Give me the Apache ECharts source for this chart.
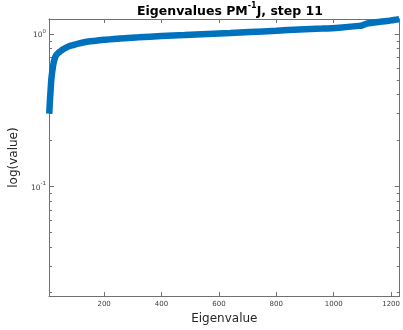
<!DOCTYPE html>
<html>
<head>
<meta charset="utf-8">
<script src="https://cdn.jsdelivr.net/npm/echarts@6/dist/echarts.min.js"></script>
<style>
  html, body { margin: 0; padding: 0; background: #fff; }
  #chart { width: 403px; height: 330px; }
</style>
</head>
<body>
<div id="chart"></div>
<script>
// eigenvalue index and value
const eigIndex = [9, 11, 13, 16, 19, 23, 27, 32, 40, 48, 56, 66, 78, 92, 110, 135, 165, 200, 255, 320, 400, 480, 560, 640, 707, 800, 880, 960, 1018, 1088, 1100, 1115, 1135, 1157, 1185, 1209, 1228];
const eigValue = [0.30, 0.36, 0.41, 0.50, 0.56, 0.63, 0.68, 0.72, 0.75, 0.77, 0.79, 0.81, 0.83, 0.845, 0.865, 0.885, 0.90, 0.915, 0.935, 0.95, 0.97, 0.985, 1.0, 1.015, 1.03, 1.05, 1.07, 1.085, 1.10, 1.13, 1.14, 1.17, 1.185, 1.20, 1.215, 1.235, 1.25];

const xTicks = [200, 400, 600, 800, 1000, 1200];
const yTickValues = [1, 0.1];
const yTickExponents = ['0', '-1'];
const yMinorValues = [0.02, 0.03, 0.04, 0.05, 0.06, 0.07, 0.08, 0.09, 0.2, 0.3, 0.4, 0.5, 0.6, 0.7, 0.8, 0.9];

const xMin = 8, xMax = 1230;
const yMin = 0.019, yMax = 1.254;

const lg = v => Math.log10(v);
const boxColor = '#707070';
const font = 'DejaVu Sans';

const chart = echarts.init(document.getElementById('chart'));

const xBase = {
  type: 'value', min: xMin, max: xMax,
  axisLine: { onZero: false, lineStyle: { color: boxColor, width: 1 } },
  axisTick: { inside: true, length: 4, customValues: xTicks, lineStyle: { color: boxColor } },
  splitLine: { show: false },
};
const yBase = {
  type: 'value', min: lg(yMin), max: lg(yMax),
  axisLine: { show: true, onZero: false, lineStyle: { color: boxColor, width: 1 } },
  splitLine: { show: false },
};

chart.setOption({
  animation: false,
  title: {
    text: '{a|Eigenvalues PM}{s|-1}{a|J, step 11}',
    left: 225, textAlign: 'center', top: -3,
    textStyle: {
      rich: {
        a: { fontFamily: font, fontSize: 12.5, fontWeight: 'bold', color: '#000', lineHeight: 16, verticalAlign: 'bottom' },
        s: { fontFamily: font, fontSize: 8, fontWeight: 'bold', color: '#000', lineHeight: 9, verticalAlign: 'top' },
      },
    },
  },
  grid: { left: 49, right: 2, top: 19, bottom: 33 },
  xAxis: [
    Object.assign({}, xBase, {
      position: 'bottom',
      name: 'Eigenvalue', nameLocation: 'middle', nameGap: 14,
      nameTextStyle: { fontFamily: font, fontSize: 12, color: '#262626' },
      axisLabel: {
        customValues: xTicks, margin: 5, fontFamily: font, fontSize: 7, color: '#404040',
        formatter: v => String(v),
      },
    }),
    Object.assign({}, xBase, { position: 'top', axisLabel: { show: false } }),
  ],
  yAxis: [
    Object.assign({}, yBase, {
      position: 'left',
      name: 'log(value)', nameLocation: 'middle', nameGap: 22,
      nameTextStyle: { fontFamily: font, fontSize: 12, color: '#262626' },
      axisTick: { inside: true, length: 5, customValues: yTickValues.map(lg), lineStyle: { color: boxColor } },
      axisLabel: {
        customValues: yTickValues.map(lg), margin: 3,
        formatter: v => {
          const i = yTickValues.findIndex(t => Math.abs(lg(t) - v) < 1e-6);
          return i < 0 ? '' : '{b|10}{s|' + yTickExponents[i] + '}';
        },
        rich: {
          b: { fontFamily: font, fontSize: 7.5, color: '#404040', lineHeight: 11, verticalAlign: 'bottom' },
          s: { fontFamily: font, fontSize: 5.5, color: '#404040', lineHeight: 7, verticalAlign: 'top' },
        },
      },
    }),
    Object.assign({}, yBase, {
      position: 'left',
      axisTick: { inside: true, length: 3, customValues: yMinorValues.map(lg), lineStyle: { color: boxColor } },
      axisLabel: { show: false },
    }),
    Object.assign({}, yBase, {
      position: 'right',
      axisTick: { inside: true, length: 5, customValues: yTickValues.map(lg), lineStyle: { color: boxColor } },
      axisLabel: { show: false },
    }),
    Object.assign({}, yBase, {
      position: 'right',
      axisTick: { inside: true, length: 3, customValues: yMinorValues.map(lg), lineStyle: { color: boxColor } },
      axisLabel: { show: false },
    }),
  ],
  series: [{
    type: 'line',
    data: eigIndex.map((x, i) => [x, lg(eigValue[i])]),
    showSymbol: false,
    smooth: 0.3,
    clip: true,
    lineStyle: { color: '#0072BD', width: 6.5 },
  }],
});
</script>
</body>
</html>
